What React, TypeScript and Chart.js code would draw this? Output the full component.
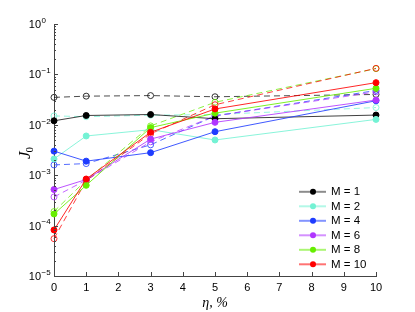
import React, { useEffect, useRef } from 'react';
import { Chart, registerables } from 'chart.js';

Chart.register(...registerables);

// ---- data ----
const etaValues = [0, 1, 3, 5, 10];
const seriesLabels = ['M = 1', 'M = 2', 'M = 4', 'M = 6', 'M = 8', 'M = 10'];
const seriesColors = ['#000000', '#74f2d4', '#1e3cff', '#b036ff', '#66ee00', '#ff0000'];

// filled markers, solid lines
const solidM1 = [0.0120, 0.0153, 0.0160, 0.0132, 0.0156];
const solidM2 = [0.0021, 0.0060, 0.0080, 0.0050, 0.0128];
const solidM4 = [0.0030, 0.0019, 0.0028, 0.0073, 0.0300];
const solidM6 = [0.00052, 0.00082, 0.0052, 0.0112, 0.0310];
const solidM8 = [0.00017, 0.00063, 0.0088, 0.0170, 0.0530];
const solidM10 = [0.000082, 0.00084, 0.0071, 0.0206, 0.0686];

// open markers, dashed lines
const openM1 = [0.0350, 0.0370, 0.0380, 0.0360, 0.0400];
const openM2 = [0.0150, 0.0145, 0.0155, 0.0160, 0.0220];
const openM4 = [0.0016, 0.0017, 0.0040, 0.0150, 0.0480];
const openM6 = [0.00037, 0.00080, 0.0046, 0.0150, 0.0450];
const openM8 = [0.00019, 0.00080, 0.0095, 0.0280, 0.1300];
const openM10 = [0.000055, 0.00078, 0.0066, 0.0250, 0.1320];

const solidSeries = [solidM1, solidM2, solidM4, solidM6, solidM8, solidM10];
const openSeries = [openM1, openM2, openM4, openM6, openM8, openM10];

const xTickValues = [0, 1, 2, 3, 4, 5, 6, 7, 8, 9, 10];
const yExponents = [-5, -4, -3, -2, -1, 0];
const yMantissas = [1, 2, 3, 4, 5, 6, 7, 8, 9];

const xTitle = 'η, %';
const yTitleMain = 'J';
const yTitleSub = '0';

function withAlpha(hex: string, a: number) {
  const r = parseInt(hex.slice(1, 3), 16);
  const g = parseInt(hex.slice(3, 5), 16);
  const b = parseInt(hex.slice(5, 7), 16);
  return `rgba(${r},${g},${b},${a})`;
}

const SANS = '"Liberation Sans", Arial, sans-serif';
const SERIF = '"Liberation Serif", "DejaVu Serif", serif';

const decorPlugin = {
  id: 'decor',
  afterDraw(chart: any) {
    const ctx = chart.ctx;
    const xs = chart.scales.x;
    const ys = chart.scales.y;
    const area = chart.chartArea;
    ctx.save();
    // inward ticks
    ctx.strokeStyle = '#444';
    ctx.lineWidth = 1;
    ctx.beginPath();
    xs.ticks.forEach((t: any) => {
      const px = Math.round(xs.getPixelForValue(t.value)) + 0.5;
      ctx.moveTo(px, area.bottom);
      ctx.lineTo(px, area.bottom - 4);
    });
    ys.ticks.forEach((t: any) => {
      const py = Math.round(ys.getPixelForValue(t.value)) + 0.5;
      const e = Math.log10(t.value);
      const major = Math.abs(e - Math.round(e)) < 1e-6;
      ctx.moveTo(area.left, py);
      ctx.lineTo(area.left + (major ? 4 : 2), py);
    });
    ctx.stroke();

    // y tick labels with superscripts
    ctx.fillStyle = '#000';
    ys.ticks.forEach((t: any) => {
      const e = Math.log10(t.value);
      if (Math.abs(e - Math.round(e)) > 1e-6) return;
      const py = ys.getPixelForValue(t.value);
      ctx.font = `11px ${SANS}`;
      ctx.textAlign = 'right';
      ctx.textBaseline = 'middle';
      ctx.fillText('10', area.left - 13, py + 1);
      ctx.font = `8px ${SANS}`;
      ctx.textAlign = 'left';
      const expText = Math.round(e) === 0 ? '0' : '\u2212' + String(Math.abs(Math.round(e)));
      ctx.fillText(expText, area.left - 12.5, py - 3.5);
    });

    // y title
    ctx.translate(30, 159);
    ctx.rotate(-Math.PI / 2);
    ctx.textAlign = 'left';
    ctx.textBaseline = 'alphabetic';
    ctx.font = `italic 17px ${SERIF}`;
    ctx.fillText(yTitleMain, 0, 0);
    const w = ctx.measureText(yTitleMain).width;
    ctx.font = `11px ${SERIF}`;
    ctx.fillText(yTitleSub, w - 1, 3);
    ctx.restore();

    // legend
    ctx.save();
    const rowH = 14.5;
    const n = seriesLabels.length;
    const textX = area.right - 45;
    const markX = area.right - 63;
    const lineL = area.right - 77;
    const lineR = area.right - 50;
    for (let i = 0; i < n; i++) {
      const y = area.bottom - 11.7 - (n - 1 - i) * rowH;
      const col = seriesColors[i];
      ctx.strokeStyle = withAlpha(col, i === 0 ? 0.45 : 0.55);
      ctx.lineWidth = 2;
      ctx.beginPath();
      ctx.moveTo(lineL, y);
      ctx.lineTo(lineR, y);
      ctx.stroke();
      ctx.fillStyle = col;
      ctx.beginPath();
      ctx.arc(markX, y, 3, 0, Math.PI * 2);
      ctx.fill();
      ctx.fillStyle = '#000';
      ctx.font = `11.5px ${SANS}`;
      ctx.textAlign = 'left';
      ctx.textBaseline = 'middle';
      ctx.fillText(seriesLabels[i], textX, y + 0.5);
    }
    ctx.restore();
  },
};

export default function App() {
  const ref = useRef<HTMLCanvasElement | null>(null);
  useEffect(() => {
    if (!ref.current) return;
    const datasets: any[] = [];
    openSeries.forEach((vals, i) => {
      const col = seriesColors[i];
      datasets.push({
        label: seriesLabels[i] + ' (open)',
        data: etaValues.map((x, j) => ({ x, y: vals[j] })),
        borderColor: withAlpha(col, i === 0 ? 0.7 : 0.75),
        borderWidth: 1,
        borderDash: [6, 4],
        pointRadius: 3,
        pointBorderWidth: 1,
        pointBorderColor: withAlpha(col, 0.8),
        pointBackgroundColor: 'rgba(255,255,255,0)',
        clip: false,
        order: 50 - i,
      });
    });
    solidSeries.forEach((vals, i) => {
      const col = seriesColors[i];
      datasets.push({
        label: seriesLabels[i],
        data: etaValues.map((x, j) => ({ x, y: vals[j] })),
        borderColor: withAlpha(col, i === 0 ? 0.75 : 0.85),
        borderWidth: 1,
        pointRadius: 3,
        pointBorderWidth: 1,
        pointBorderColor: col,
        pointBackgroundColor: col,
        clip: false,
        order: 20 - i,
      });
    });

    const chart = new Chart(ref.current, {
      type: 'line',
      data: { datasets },
      plugins: [decorPlugin],
      options: {
        animation: false,
        responsive: false,
        devicePixelRatio: 1,
        layout: { padding: { left: 0, right: 39, top: 24, bottom: 0 } },
        plugins: { legend: { display: false }, tooltip: { enabled: false }, title: { display: false } },
        elements: { line: { tension: 0 } },
        scales: {
          x: {
            type: 'linear',
            min: 0,
            max: 10,
            afterBuildTicks: (scale: any) => {
              scale.ticks = xTickValues.map((v) => ({ value: v }));
            },
            afterFit: (scale: any) => {
              scale.height = 36;
            },
            grid: { display: false, drawTicks: false },
            border: { display: true, color: '#444', width: 1 },
            ticks: {
              color: '#000',
              font: { family: SANS, size: 11 },
              padding: 5,
              maxRotation: 0,
              autoSkip: false,
            },
            title: {
              display: true,
              text: xTitle,
              color: '#000',
              font: { family: SERIF, size: 14, style: 'italic' },
              padding: { top: 0, bottom: 0.6 },
            },
          },
          y: {
            type: 'logarithmic',
            min: 1e-5,
            max: 1,
            afterBuildTicks: (scale: any) => {
              const t: any[] = [];
              yExponents.forEach((e) => {
                yMantissas.forEach((m) => {
                  const v = m * Math.pow(10, e);
                  if (v <= 1 + 1e-12) t.push({ value: v });
                });
              });
              scale.ticks = t;
            },
            afterFit: (scale: any) => {
              scale.width = 54;
            },
            grid: { display: false, drawTicks: false },
            border: { display: true, color: '#444', width: 1 },
            ticks: { display: false },
          },
        },
      },
    });
    return () => chart.destroy();
  }, []);

  return (
    <div style={{ position: 'fixed', left: 0, top: 0, width: 415, height: 312, background: '#fff' }}>
      <canvas ref={ref} width={415} height={312} style={{ display: 'block', width: 415, height: 312 }} />
    </div>
  );
}
